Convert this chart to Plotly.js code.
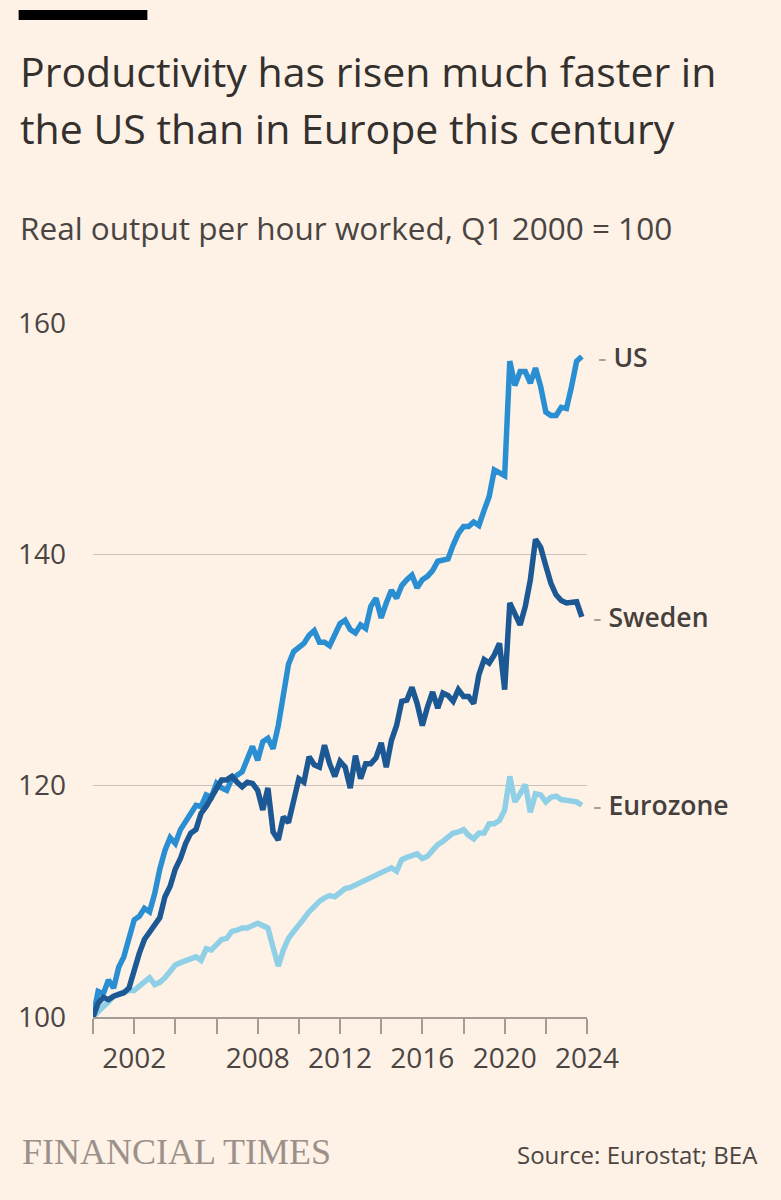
<!DOCTYPE html>
<html>
<head>
<meta charset="utf-8">
<script src="https://cdn.plot.ly/plotly-3.0.1.min.js"></script>
<style>
  html, body { margin: 0; padding: 0; background: #fef1e6; }
  #chart { width: 781px; height: 1200px; }
</style>
</head>
<body>
<div id="chart"></div>
<script>
// Quarterly index, Q1 2000 = 100 (Q1 2000 .. Q4 2023)
const startYear = 2000;
const nQuarters = 96;

const us = [100,102.2,102.0,103.2,102.5,104.3,105.2,106.8,108.4,108.7,
  109.4,109.1,110.7,112.8,114.4,115.5,115.0,116.2,116.8,117.6,
  118.3,118.2,119.2,119.0,120.2,119.8,119.6,120.6,120.9,121.2,
  122.3,123.4,122.2,123.8,124.1,123.2,125.2,128.1,130.5,131.6,
  131.9,132.3,133.0,133.4,132.4,132.4,132.1,133.0,134.0,134.3,
  133.5,133.2,133.9,133.6,135.5,136.2,134.5,135.8,136.9,136.2,
  137.3,137.8,138.2,137.1,137.8,138.1,138.6,139.4,139.5,139.6,
  140.8,141.8,142.4,142.4,142.8,142.5,143.8,145.0,147.3,147.0,
  146.8,156.7,154.6,155.8,155.8,154.8,156.1,154.5,152.3,152.0,
  152.0,152.7,152.6,154.5,156.7,157.1];

const sweden = [100,101.2,101.7,101.5,101.8,101.9,102.1,102.5,104.2,105.5,
  106.7,107.3,107.9,108.6,110.4,111.3,112.8,113.7,115.0,115.9,
  116.2,117.6,118.2,118.9,119.6,120.5,120.5,120.8,120.3,119.9,
  120.3,120.2,119.6,117.9,119.8,116.0,115.3,117.3,116.8,118.6,
  120.6,120.3,122.5,121.8,121.6,123.5,121.9,120.8,122.1,121.6,
  119.8,122.6,120.6,121.9,121.9,122.4,123.7,121.6,123.9,125.2,
  127.3,127.4,128.5,127.1,125.2,126.8,128.1,126.7,128.0,127.8,
  127.3,128.3,127.7,127.7,127.1,129.6,130.9,130.6,131.3,132.3,
  128.3,135.8,134.7,133.9,135.5,137.8,141.3,140.6,139.0,137.5,
  136.5,136.0,135.8,135.8,135.9,134.6];

const eurozone = [100,100.5,100.9,101.3,101.8,102.0,102.2,102.3,102.3,102.7,
  103.0,103.4,102.8,103.0,103.4,104.0,104.5,104.7,104.9,105.0,
  105.2,104.9,105.9,105.8,106.3,106.7,106.8,107.4,107.5,107.7,
  107.7,107.9,108.1,107.9,107.7,106.0,104.4,105.8,106.8,107.4,
  107.9,108.5,109.1,109.6,110.0,110.3,110.5,110.4,110.8,111.1,
  111.2,111.4,111.6,111.9,112.1,112.3,112.4,112.7,112.9,112.6,
  113.6,113.8,113.9,114.1,113.7,113.9,114.4,114.9,115.2,115.5,
  115.9,116.0,116.2,115.7,115.4,115.9,115.9,116.7,116.7,117.0,
  117.9,120.8,118.6,119.3,120.1,117.7,119.3,119.2,118.6,119.0,
  119.1,118.8,118.7,118.6,118.6,118.3];

const seriesNames = ["US", "Sweden", "Eurozone"];
const seriesColors = {"US": "#2a8fd2", "Sweden": "#1c5994", "Eurozone": "#90d0e7"};

const tickYears = [2000,2002,2004,2006,2008,2010,2012,2014,2016,2018,2020,2022,2024];
const labelledYears = [2002,2008,2012,2016,2020,2024];
const yTicks = [100,120,140,160];

// quarter dates
const dates = [];
for (let i = 0; i < nQuarters; i++) {
  const y = startYear + Math.floor(i / 4);
  const m = (i % 4) * 3 + 1;
  dates.push(y + "-" + String(m).padStart(2, "0") + "-01");
}

const dataBySeries = {"US": us, "Sweden": sweden, "Eurozone": eurozone};
const drawOrder = ["Eurozone", "US", "Sweden"];

const traces = drawOrder.map(name => ({
  type: "scatter",
  mode: "lines",
  x: dates,
  y: dataBySeries[name],
  name: name,
  line: {color: seriesColors[name], width: 5.5, shape: "linear"},
  hoverinfo: "skip"
}));

// plot area in pixels
const L = 92.5, R = 587.5, T = 323, B = 1017;
const W = R - L, H = B - T;
const px = x => (x - L) / W;
const py = y => (B - y) / H;

const textCol = "#33302e";
const font = "'Open Sans', Roboto, sans-serif";

const annotations = [
  {text: "Productivity has risen much faster in", x: px(17), y: py(71), xanchor: "left", yanchor: "middle",
   font: {family: font, size: 41, color: textCol}},
  {text: "the US than in Europe this century", x: px(17), y: py(128), xanchor: "left", yanchor: "middle",
   font: {family: font, size: 41, color: textCol}},
  {text: "Real output per hour worked, Q1 2000 = 100", x: px(17), y: py(228), xanchor: "left", yanchor: "middle",
   font: {family: font, size: 31.5, color: "#4a4542"}},
  {text: "FINANCIAL TIMES", x: px(19), y: py(1152), xanchor: "left", yanchor: "middle",
   font: {family: "'Liberation Serif', 'DejaVu Serif', serif", size: 36, color: "#9b918a"}},
  {text: "Source: Eurostat; BEA", x: px(761), y: py(1154), xanchor: "right", yanchor: "middle",
   font: {family: font, size: 24, color: "#4a4542"}}
].map(a => Object.assign({xref: "paper", yref: "paper", showarrow: false}, a));

seriesNames.forEach(name => {
  const vals = dataBySeries[name];
  annotations.push({
    xref: "x", yref: "y", x: dates[dates.length - 1], y: vals[vals.length - 1],
    xanchor: "left", yanchor: "middle", showarrow: false, xshift: name === "US" ? 14 : 9,
    text: '<span style="color:#a8a09a;font-weight:400">-</span> ' + name,
    font: {family: font, size: 26.5, color: "#45403d", weight: 600}
  });
});

const layout = {
  width: 781, height: 1200,
  paper_bgcolor: "#fef1e6", plot_bgcolor: "#fef1e6",
  margin: {l: L, r: 781 - R, t: T, b: 1200 - B, pad: 0},
  showlegend: false,
  xaxis: {
    type: "date",
    range: [startYear + "-01-01", "2024-01-01"],
    tickvals: tickYears.map(y => y + "-01-01"),
    ticktext: tickYears.map(y => labelledYears.includes(y) ? String(y) : ""),
    ticks: "outside", ticklen: 15, tickwidth: 2, tickcolor: "#a39b94",
    showline: true, linecolor: "#a39b94", linewidth: 2,
    showgrid: false, zeroline: false,
    tickfont: {family: font, size: 28, color: "#4a4542"},
    fixedrange: true
  },
  yaxis: {
    range: [100, 160],
    tickvals: yTicks,
    ticks: "", showline: false, zeroline: false,
    showgrid: true, gridcolor: "#cdc3ba", gridwidth: 1.5,
    ticklabelstandoff: 26,
    tickfont: {family: font, size: 28, color: "#4a4542"},
    fixedrange: true
  },
  shapes: [
    {type: "rect", xref: "paper", yref: "paper", x0: px(18), x1: px(147), y0: py(20), y1: py(10),
     fillcolor: "#000000", line: {width: 0}}
  ],
  annotations: annotations
};

Plotly.newPlot("chart", traces, layout, {displayModeBar: false, staticPlot: true});
</script>
</body>
</html>
